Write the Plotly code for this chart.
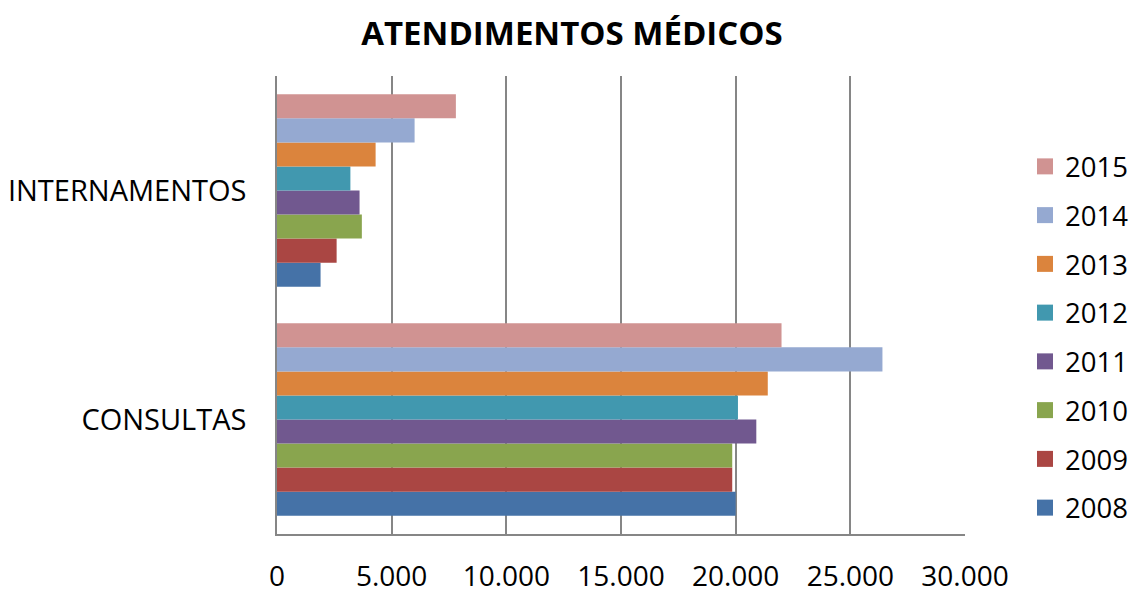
import plotly.graph_objects as go

categories = ["CONSULTAS", "INTERNAMENTOS"]
years = ["2008", "2009", "2010", "2011", "2012", "2013", "2014", "2015"]
consultas = [20000, 19850, 19850, 20900, 20100, 21400, 26400, 22000]
internamentos = [1900, 2600, 3700, 3600, 3200, 4300, 6000, 7800]
colors = ["#4572A7", "#AA4643", "#89A54E", "#71588F", "#4198AF", "#DB843D", "#95A9D1", "#D09392"]
tick_vals = [0, 5000, 10000, 15000, 20000, 25000, 30000]
tick_text = ["0", "5.000", "10.000", "15.000", "20.000", "25.000", "30.000"]

FONT = "Open Sans"
W, H = 1129, 586  # page body has an 8px margin
L, R, T, B = 269, 172, 68, 60
PW, PH = W - L - R, H - T - B

fig = go.Figure()
for i, yr in enumerate(years):
    fig.add_trace(go.Bar(
        y=categories, x=[consultas[i], internamentos[i]], orientation="h",
        name=yr, marker=dict(color=colors[i], line=dict(width=0)),
        showlegend=False,
    ))
for i in reversed(range(len(years))):
    fig.add_trace(go.Scatter(
        x=[None], y=[None], mode="markers", name=years[i], legendgroup=years[i],
        marker=dict(symbol="square", size=16, color=colors[i]),
        showlegend=True,
    ))

fig.update_layout(
    width=W, height=H,
    paper_bgcolor="white", plot_bgcolor="white",
    margin=dict(l=L, r=R, t=T, b=B, autoexpand=False),
    barmode="group", bargap=0.16, bargroupgap=0,
    font=dict(family=FONT, size=29, color="#000000"),
    title=dict(text="<b>ATENDIMENTOS MÉDICOS</b>", x=564 / W, xref="container", xanchor="center",
               y=1 - 25 / H, yref="container", yanchor="middle",
               font=dict(family=FONT, size=33, color="#000000")),
    legend=dict(x=(1017 - L) / PW, xanchor="left",
                y=(H - B - 329) / PH, yanchor="middle",
                traceorder="grouped", tracegroupgap=10,
                font=dict(family=FONT, size=27.5, color="#000000"),
                bgcolor="rgba(0,0,0,0)"),
    xaxis=dict(range=[0, 30000], tickvals=tick_vals, ticktext=tick_text,
               showgrid=True, gridcolor="#868686", gridwidth=1.5,
               showline=True, linecolor="#868686", linewidth=1.5,
               zeroline=False, ticks="", ticklabelstandoff=17, automargin=False,
               tickfont=dict(family=FONT, size=28, color="#000000")),
    yaxis=dict(categoryorder="array", categoryarray=categories,
               showgrid=False, showline=True, linecolor="#868686", linewidth=1.5,
               ticks="", ticklabelstandoff=23, automargin=False,
               tickfont=dict(family=FONT, size=29, color="#000000")),
)

fig.write_html("out.html")
